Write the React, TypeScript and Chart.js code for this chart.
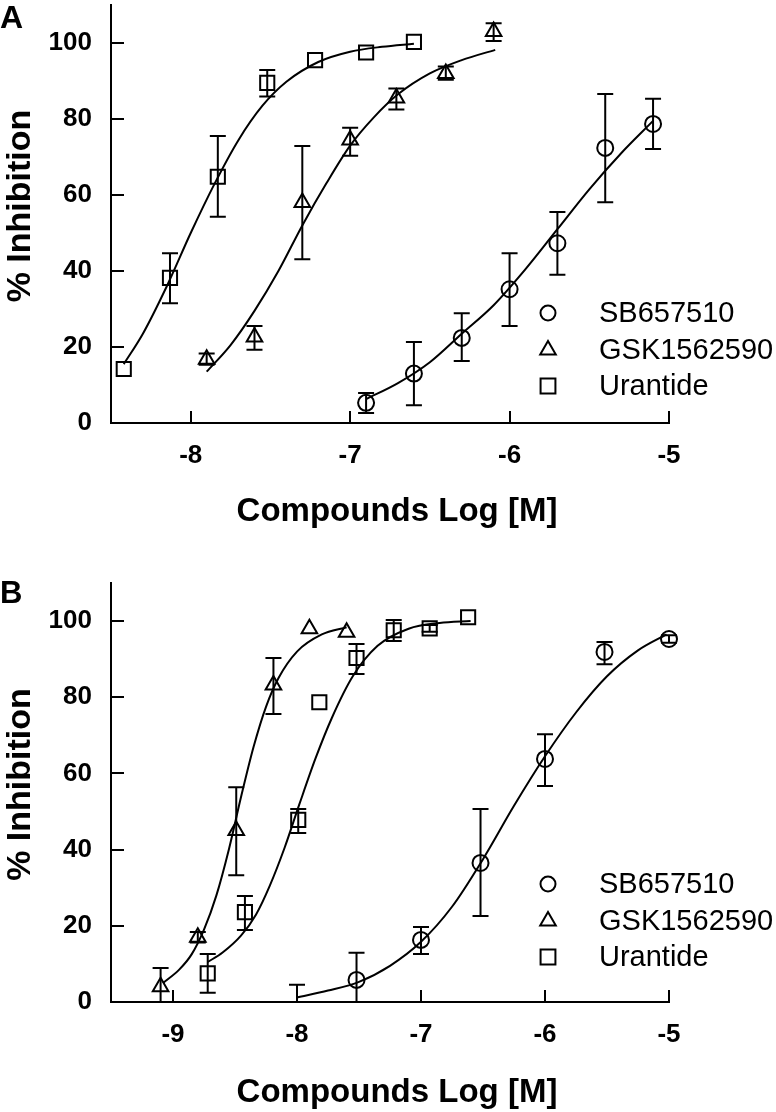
import React, { useEffect, useRef } from 'react';
import { Chart, registerables } from 'chart.js';

Chart.register(...registerables);

const FONT = "'Liberation Sans', Arial, Helvetica, sans-serif";

// ---------- shared labels / ticks ----------
const SERIES_NAMES = ['SB657510', 'GSK1562590', 'Urantide'];
const Y_TICKS = [0, 20, 40, 60, 80, 100];
const X_TICKS_A = [-8, -7, -6, -5];
const X_TICKS_B = [-9, -8, -7, -6, -5];
const X_TITLE = 'Compounds Log [M]';
const Y_TITLE = '% Inhibition';

// ---------- Panel A ----------
const A_SB_X = [-6.9, -6.6, -6.3, -6.0, -5.7, -5.4, -5.1];
const A_SB_Y = [5.3, 13, 22.4, 35.2, 47.3, 72.4, 78.7];
const A_SB_HI = [7.9, 21.3, 28.9, 44.7, 55.5, 86.6, 85.3];
const A_SB_LO = [2.6, 4.7, 16.3, 25.5, 39, 58.1, 72.1];
const A_SB_FIT_X = [-6.9, -6.7, -6.5, -6.3, -6.1, -5.9, -5.7, -5.5, -5.3, -5.1];
const A_SB_FIT_Y = [6.3, 10.5, 16, 23.5, 31, 40.5, 51, 61.5, 71, 79.5];

const A_GSK_X = [-7.9, -7.6, -7.3, -7.0, -6.71, -6.4, -6.1];
const A_GSK_Y = [16.8, 22.6, 58, 74.5, 85.5, 92, 103];
const A_GSK_HI = [18.3, 25.5, 72.9, 77.7, 88, 93.8, 105.2];
const A_GSK_LO = [15.3, 19.3, 43.1, 70.3, 82.5, 90.3, 100.5];
const A_GSK_FIT_X = [-7.9, -7.75, -7.6, -7.45, -7.3, -7.15, -7.0, -6.85, -6.7, -6.5, -6.3, -6.09];
const A_GSK_FIT_Y = [13.5, 20.5, 29.5, 40, 52, 63, 73, 80.5, 86.5, 92, 95.5, 98.2];

const A_URA_X = [-8.42, -8.13, -7.83, -7.52, -7.22, -6.9, -6.6];
const A_URA_Y = [14.2, 38.2, 64.8, 89.5, 95.5, 97.5, 100.3];
const A_URA_HI = [null, 44.7, 75.5, 92.9, null, null, null];
const A_URA_LO = [null, 31.5, 54.3, 85.9, null, null, null];
const A_URA_FIT_X = [-8.42, -8.3, -8.15, -8.0, -7.85, -7.7, -7.55, -7.4, -7.2, -7.0, -6.8, -6.6];
const A_URA_FIT_Y = [15.5, 23.5, 36, 50, 63, 74.5, 83.5, 89.8, 95, 97.7, 99, 99.8];

// ---------- Panel B ----------
const B_SB_X = [-8.0, -7.52, -7.0, -6.52, -6.0, -5.52, -5.0];
const B_SB_Y = [-4, 5.8, 16.3, 36.5, 63.8, 91.9, 95.3];
const B_SB_HI = [4.5, 12.9, 19.7, 50.7, 70.3, 94.5, 96.3];
const B_SB_LO = [-12.5, -1.3, 12.6, 22.6, 56.7, 88.7, 94.3];
const B_SB_FIT_X = [-8.0, -7.75, -7.5, -7.25, -7.0, -6.75, -6.5, -6.25, -6.0, -5.75, -5.5, -5.25, -5.02];
const B_SB_FIT_Y = [1.2, 3, 5.3, 9.5, 15.8, 25, 37.5, 51.5, 64.5, 76, 85.5, 92.3, 96.5];

const B_GSK_X = [-9.1, -8.8, -8.49, -8.19, -7.9, -7.6];
const B_GSK_Y = [4, 17, 45, 83.2, 98, 97.1];
const B_GSK_HI = [8.9, 18.4, 56.4, 90.3, null, null];
const B_GSK_LO = [0, 15.6, 33.3, 75.6, null, null];
const B_GSK_FIT_X = [-9.08, -8.95, -8.85, -8.75, -8.65, -8.55, -8.45, -8.35, -8.25, -8.15, -8.0, -7.8, -7.6];
const B_GSK_FIT_Y = [5, 8.5, 12.5, 19, 28, 40, 54, 67, 77.5, 85, 92, 96.5, 98.4];

const B_URA_X = [-8.72, -8.42, -7.99, -7.82, -7.52, -7.22, -6.93, -6.62];
const B_URA_Y = [7.5, 23.6, 47.8, 78.7, 90.3, 97.6, 98.1, 101];
const B_URA_HI = [12.6, 27.8, 50.7, null, 94, 100.3, 99, null];
const B_URA_LO = [2.4, 18.9, 44.4, null, 86.1, 94.8, 97.2, null];
const B_URA_FIT_X = [-8.72, -8.6, -8.45, -8.33, -8.22, -8.1, -7.98, -7.85, -7.72, -7.55, -7.35, -7.1, -6.85, -6.6];
const B_URA_FIT_Y = [10.5, 13, 17.5, 23, 30.5, 40.5, 52, 64, 74.5, 85.5, 93.5, 98, 99.5, 100];

// ---------- styles ----------
const STYLES = ['circle', 'triangle', 'rect'];
const RADII = [8, 9, 10];
const LEGEND_RADII = [7.5, 9, 10.5];

type Series = { x: number[]; y: number[]; hi: (number | null)[]; lo: (number | null)[]; fx: number[]; fy: number[] };

type PanelCfg = {
  label: string;
  labelFont: number;
  labelBaseline: number;
  xMin: number;
  xMax: number;
  xTicks: number[];
  top: number;
  xAxisHeight: number;
  xTitleBaseline: number; // below chart bottom
  legendRows: number[];
  series: Series[];
};

const PANEL_A: PanelCfg = {
  label: 'A', labelFont: 32, labelBaseline: 28,
  xMin: -8.5, xMax: -5, xTicks: X_TICKS_A,
  top: 5, xAxisHeight: 133, xTitleBaseline: 98,
  legendRows: [110, 73, 37],
  series: [
    { x: A_SB_X, y: A_SB_Y, hi: A_SB_HI, lo: A_SB_LO, fx: A_SB_FIT_X, fy: A_SB_FIT_Y },
    { x: A_GSK_X, y: A_GSK_Y, hi: A_GSK_HI, lo: A_GSK_LO, fx: A_GSK_FIT_X, fy: A_GSK_FIT_Y },
    { x: A_URA_X, y: A_URA_Y, hi: A_URA_HI, lo: A_URA_LO, fx: A_URA_FIT_X, fy: A_URA_FIT_Y },
  ],
};

const PANEL_B: PanelCfg = {
  label: 'B', labelFont: 31, labelBaseline: 47,
  xMin: -9.5, xMax: -5, xTicks: X_TICKS_B,
  top: 27, xAxisHeight: 110, xTitleBaseline: 100,
  legendRows: [118, 81, 45],
  series: [
    { x: B_SB_X, y: B_SB_Y, hi: B_SB_HI, lo: B_SB_LO, fx: B_SB_FIT_X, fy: B_SB_FIT_Y },
    { x: B_GSK_X, y: B_GSK_Y, hi: B_GSK_HI, lo: B_GSK_LO, fx: B_GSK_FIT_X, fy: B_GSK_FIT_Y },
    { x: B_URA_X, y: B_URA_Y, hi: B_URA_HI, lo: B_URA_LO, fx: B_URA_FIT_X, fy: B_URA_FIT_Y },
  ],
};

const W = 776;
const H = 556;

function drawMarker(ctx: CanvasRenderingContext2D, style: string, r: number, x: number, y: number) {
  ctx.beginPath();
  if (style === 'circle') {
    ctx.arc(x, y, r, 0, Math.PI * 2);
  } else if (style === 'triangle') {
    let a = 0;
    ctx.moveTo(x + Math.sin(a) * r, y - Math.cos(a) * r);
    a += (2 * Math.PI) / 3;
    ctx.lineTo(x + Math.sin(a) * r, y - Math.cos(a) * r);
    a += (2 * Math.PI) / 3;
    ctx.lineTo(x + Math.sin(a) * r, y - Math.cos(a) * r);
    ctx.closePath();
  } else {
    const s = Math.SQRT1_2 * r;
    ctx.rect(x - s, y - s, 2 * s, 2 * s);
  }
  ctx.stroke();
}

function buildConfig(cfg: PanelCfg): any {
  const clipMarks = { left: 20, top: 20, right: 20, bottom: 0 };
  const datasets: any[] = [];
  cfg.series.forEach((s, i) => {
    datasets.push({
      label: SERIES_NAMES[i] + ' fit',
      data: s.fx.map((x, j) => ({ x, y: s.fy[j] })),
      showLine: true,
      borderColor: '#000',
      borderWidth: 2,
      pointRadius: 0,
      pointHoverRadius: 0,
      cubicInterpolationMode: 'monotone',
      fill: false,
      clip: clipMarks,
      order: 2,
    });
  });
  cfg.series.forEach((s, i) => {
    datasets.push({
      label: SERIES_NAMES[i],
      data: s.x.map((x, j) => ({ x, y: s.y[j] })),
      showLine: false,
      pointStyle: STYLES[i],
      pointRadius: RADII[i],
      pointHoverRadius: RADII[i],
      pointBorderWidth: 2,
      pointBorderColor: '#000',
      pointBackgroundColor: 'rgba(0,0,0,0)',
      borderColor: '#000',
      backgroundColor: 'rgba(0,0,0,0)',
      clip: clipMarks,
      order: 1,
    });
  });

  const errorBars = {
    id: 'errorBars',
    afterDatasetsDraw(chart: any) {
      const { ctx, chartArea: a, scales } = chart;
      const xs = scales.x;
      const ys = scales.y;
      ctx.save();
      ctx.beginPath();
      ctx.rect(a.left - 20, a.top - 20, a.right - a.left + 40, a.bottom - a.top + 20);
      ctx.clip();
      ctx.strokeStyle = '#000';
      ctx.lineWidth = 2;
      cfg.series.forEach((s) => {
        s.x.forEach((xv, j) => {
          const hi = s.hi[j];
          const lo = s.lo[j];
          if (hi == null || lo == null) return;
          const px = xs.getPixelForValue(xv);
          const ph = ys.getPixelForValue(hi);
          const pl = ys.getPixelForValue(lo);
          ctx.beginPath();
          ctx.moveTo(px, ph);
          ctx.lineTo(px, pl);
          ctx.moveTo(px - 8, ph);
          ctx.lineTo(px + 8, ph);
          ctx.moveTo(px - 8, pl);
          ctx.lineTo(px + 8, pl);
          ctx.stroke();
        });
      });
      ctx.restore();
    },
  };

  const decorations = {
    id: 'decorations',
    afterDraw(chart: any) {
      const { ctx, chartArea: a, scales } = chart;
      ctx.save();
      ctx.strokeStyle = '#000';
      ctx.lineWidth = 2;
      // inward tick marks
      ctx.beginPath();
      cfg.xTicks.forEach((v) => {
        const px = Math.round(scales.x.getPixelForValue(v));
        ctx.moveTo(px, a.bottom);
        ctx.lineTo(px, a.bottom - 12);
      });
      Y_TICKS.forEach((v) => {
        const py = Math.round(scales.y.getPixelForValue(v));
        ctx.moveTo(a.left, py);
        ctx.lineTo(a.left + 13, py);
      });
      ctx.stroke();

      ctx.fillStyle = '#000';

      // axis titles
      ctx.font = `bold 33px ${FONT}`;
      ctx.textAlign = 'center';
      ctx.textBaseline = 'alphabetic';
      ctx.fillText(X_TITLE, (a.left + a.right) / 2 + 7, a.bottom + cfg.xTitleBaseline);
      ctx.save();
      ctx.translate(30, (a.top + a.bottom) / 2 - 8);
      ctx.rotate(-Math.PI / 2);
      ctx.font = `bold 34px ${FONT}`;
      ctx.fillText(Y_TITLE, 0, 0);
      ctx.restore();

      // legend
      ctx.font = `29px ${FONT}`;
      ctx.textBaseline = 'middle';
      ctx.textAlign = 'left';
      SERIES_NAMES.forEach((name, i) => {
        const my = a.bottom - cfg.legendRows[i];
        drawMarker(ctx, STYLES[i], LEGEND_RADII[i], a.left + 437, my);
        ctx.fillText(name, a.left + 488, my + 1);
      });

      // panel label
      ctx.font = `bold ${cfg.labelFont}px ${FONT}`;
      ctx.textBaseline = 'alphabetic';
      ctx.fillText(cfg.label, 0, cfg.labelBaseline);
      ctx.restore();
    },
  };

  return {
    type: 'scatter',
    data: { datasets },
    plugins: [errorBars, decorations],
    options: {
      responsive: false,
      animation: false,
      events: [],
      layout: { autoPadding: false, padding: { left: 0, top: cfg.top, right: W - 669, bottom: 0 } },
      plugins: { legend: { display: false }, tooltip: { enabled: false }, title: { display: false } },
      scales: {
        x: {
          type: 'linear',
          min: cfg.xMin,
          max: cfg.xMax,
          grid: { display: false, drawTicks: false },
          border: { display: true, color: '#000', width: 2 },
          afterBuildTicks: (scale: any) => {
            scale.ticks = cfg.xTicks.map((v) => ({ value: v }));
          },
          afterFit: (scale: any) => {
            scale.height = cfg.xAxisHeight;
            scale.paddingLeft = 0;
            scale.paddingRight = 0;
            scale.paddingTop = 0;
            scale.paddingBottom = 0;
          },
          ticks: {
            color: '#000',
            padding: 17,
            autoSkip: false,
            maxRotation: 0,
            font: { family: FONT, size: 26, weight: 'bold' },
            callback: (v: number) => String(v),
          },
          title: { display: false },
        },
        y: {
          type: 'linear',
          min: 0,
          max: 110,
          grid: { display: false, drawTicks: false },
          border: { display: true, color: '#000', width: 2 },
          afterBuildTicks: (scale: any) => {
            scale.ticks = Y_TICKS.map((v) => ({ value: v }));
          },
          afterFit: (scale: any) => {
            scale.width = 111;
            scale.paddingLeft = 0;
            scale.paddingRight = 0;
            scale.paddingTop = 0;
            scale.paddingBottom = 0;
          },
          ticks: {
            color: '#000',
            padding: 19,
            font: { family: FONT, size: 26, weight: 'bold' },
            callback: (v: number) => String(v),
          },
          title: { display: false },
        },
      },
    },
  };
}

function Panel({ cfg, top }: { cfg: PanelCfg; top: number }) {
  const ref = useRef<HTMLCanvasElement>(null);
  useEffect(() => {
    if (!ref.current) return;
    const chart = new Chart(ref.current, buildConfig(cfg));
    return () => chart.destroy();
  }, [cfg]);
  return (
    <canvas
      ref={ref}
      width={W}
      height={H}
      style={{ position: 'absolute', left: 0, top, width: W, height: H, display: 'block' }}
    />
  );
}

export default function App() {
  return (
    <div style={{ position: 'absolute', left: 0, top: 0, width: W, height: 1112, background: '#fff' }}>
      <Panel cfg={PANEL_A} top={0} />
      <Panel cfg={PANEL_B} top={H} />
    </div>
  );
}
